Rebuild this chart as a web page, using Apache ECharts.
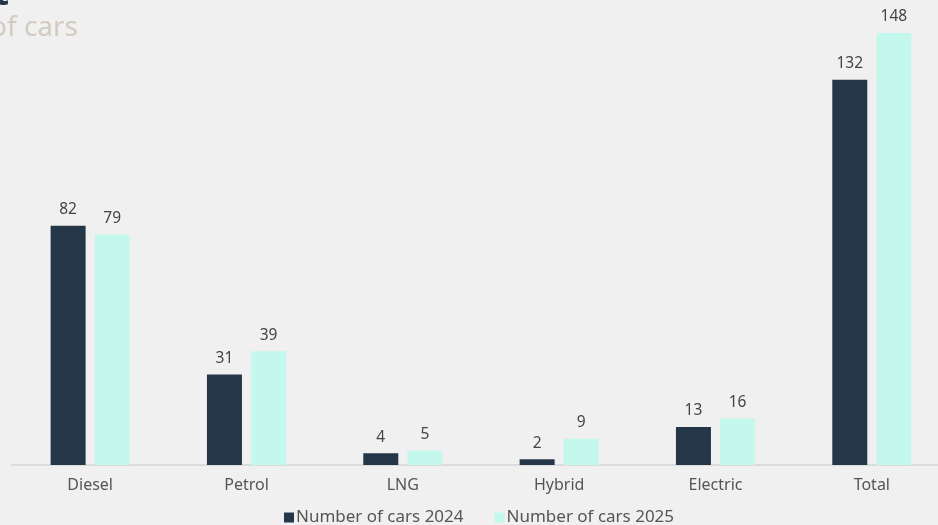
<!DOCTYPE html>
<html><head><meta charset="utf-8">
<script src="https://cdn.jsdelivr.net/npm/echarts@6/dist/echarts.min.js"></script>
<style>html,body{margin:0;padding:0;background:#f0f0f0}#c{width:938px;height:525px}</style>
</head><body><div id="c"></div>
<script>
const categories = ['Diesel','Petrol','LNG','Hybrid','Electric','Total'];
const cars2024 = [82,31,4,2,13,132];
const cars2025 = [79,39,5,9,16,148];
const seriesNames = ['Number of cars 2024','Number of cars 2025'];
const titleText = 'Car fleet';
const subtitleText = 'Number of cars';

const chart = echarts.init(document.getElementById('c'), null, {renderer:'canvas'});
const lbl = {show:true, position:'top', distance:8, color:'#444', fontSize:15.5, fontFamily:'Noto Sans'};
chart.setOption({
  backgroundColor:'#f0f0f0',
  animation:false,
  graphic:[
    {type:'text', x:9, y:-22, style:{text:titleText, align:'right', verticalAlign:'top',
      fill:'#243647', font:'bold 34px "Noto Sans"'}},
    {type:'text', x:78, y:14, style:{text:subtitleText, align:'right', verticalAlign:'top',
      fill:'#d3cbc0', font:'28px "Noto Sans"'}}
  ],
  grid:{left:12, width:938, top:-2, bottom:60, containLabel:false, outerBoundsMode:'none'},
  xAxis:{type:'category', data:categories,
    axisLine:{lineStyle:{color:'#dcdcdc', width:2}}, axisTick:{show:false},
    axisLabel:{color:'#555', fontSize:16, margin:12, fontFamily:'Noto Sans'}},
  yAxis:{type:'value', min:0, max:160, show:false, splitLine:{show:false}},
  legend:{bottom:-6, left:279, itemWidth:10, itemHeight:10, itemGap:31, icon:'rect',
    textStyle:{color:'#555', fontSize:17, fontFamily:'Noto Sans', padding:[0,0,0,-3]}},
  series:[
    {name:seriesNames[0], type:'bar', data:cars2024, barWidth:35, barGap:'26%',
     itemStyle:{color:'#243647'}, label:lbl},
    {name:seriesNames[1], type:'bar', data:cars2025, barWidth:35,
     itemStyle:{color:'#c5f8ec'}, label:lbl}
  ]
});
</script></body></html>
